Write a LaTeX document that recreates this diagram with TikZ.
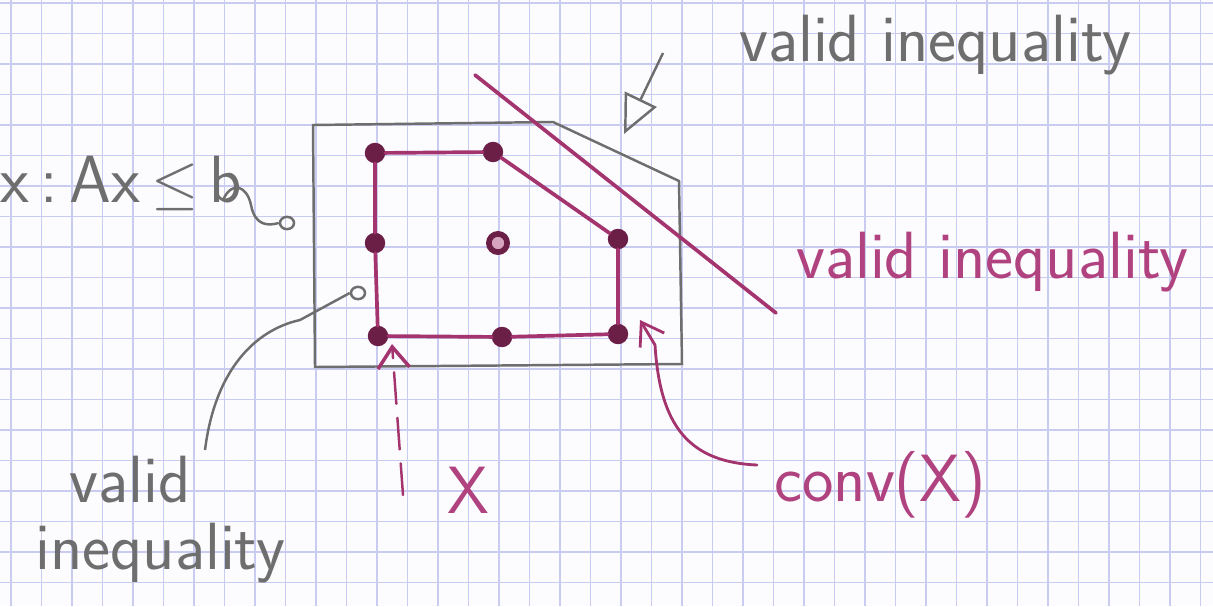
\documentclass[tikz,border=0pt]{standalone}
\usepackage{fontspec}
\usetikzlibrary{arrows.meta,shapes.geometric}
\definecolor{paper}{HTML}{FCFCFF}
\definecolor{gridc}{HTML}{C9CBF0}
\definecolor{pencilc}{HTML}{6E6E6E}
\definecolor{inkc}{HTML}{A3346E}
\definecolor{dotc}{HTML}{6B1E46}
\definecolor{inktext}{HTML}{B0437F}
\tikzset{
  gridline/.style={draw=gridc, line width=0.45pt},
  pencil/.style={draw=pencilc, line width=0.7pt},
  ink/.style={draw=inkc, line width=1.05pt, line cap=round, line join=round},
  inkdot/.style={circle, fill=dotc, draw=dotc, line width=0.6pt, minimum size=5.2pt, inner sep=0pt},
  hollowdot/.style={circle, fill=white!55!inkc, draw=dotc, line width=1.6pt, minimum size=5.2pt, inner sep=0pt},
  pentext/.style={text=pencilc, font=\sffamily\fontsize{19}{22}\selectfont, inner sep=1pt},
  inklabel/.style={text=inktext, font=\sffamily\fontsize{19}{22}\selectfont, inner sep=1pt},
  smallloop/.style={ellipse, draw=pencilc, line width=0.7pt, minimum width=4pt, minimum height=3.5pt, inner sep=0pt},
}
\begin{document}
\begin{tikzpicture}[x=0.01cm, y=-0.01cm]
\useasboundingbox (0,0) rectangle (1213,606);
\fill[paper] (0,0) rectangle (1213,606);
% grid paper
\foreach \i in {0,...,39} \draw[gridline] ({11+30.5*\i},0) -- ++(0,606);
\foreach \j in {0,...,19} \draw[gridline] (0,{3+30.5*\j}) -- ++(1213,0);

% outer polyhedron {x : Ax <= b} (pencil)
\draw[pencil] (313,125) -- (553,122) -- (679,181) -- (682,364) -- (315,367) -- cycle;

% integer points
\node[inkdot] (p1) at (375,153) {};
\node[inkdot] (p2) at (493,152) {};
\node[inkdot] (p3) at (375,243) {};
\node[hollowdot] (p4) at (498,243) {};
\node[inkdot] (p5) at (618,239) {};
\node[inkdot] (p6) at (378,336) {};
\node[inkdot] (p7) at (502,337) {};
\node[inkdot] (p8) at (618,334) {};

% convex hull
\draw[ink] (p1) -- (p2) -- (p5) -- (p8) -- (p7) -- (p6) -- (p3) -- (p1);

% valid inequality line (ink)
\coordinate (v1) at (475,75);
\coordinate (v2) at (776,313);
\draw[ink] (v1) -- (v2);

% labels
\node[pentext] (t1) at (935,45) {valid inequality};
\coordinate (a1) at (663,53);
\coordinate (a2) at (624,134);
\draw[pencil, -{Triangle[open, length=11pt, width=10pt]}] (a1) -- (a2);

\node[inklabel] (t2) at (992,262) {valid inequality};

\node[pentext, anchor=west, inner sep=0pt] (t3) at (0,183) {x\,:\,Ax\,$\leq$\,b};
\node[smallloop] (s1) at (287,223) {};
\coordinate (s0) at (223,200);
\draw[pencil] (s0) .. controls (232,180) and (247,186) .. (251,205) .. controls (255,226) and (268,226) .. (s1.west);

\node[pentext, inner sep=0pt] (t4) at (130,480) {valid};
\node[pentext, inner sep=0pt] (t5) at (160,553) {inequality};
\node[smallloop] (s2) at (358,293) {};
\coordinate (s3) at (205,450);
\draw[pencil] (s3) .. controls (215,370) and (255,330) .. (300,320) -- (s2.west);

% X with dashed pointer
\node[inklabel] (xl) at (468,490) {X};
\coordinate (d1) at (403,495);
\draw[ink, line width=0.7pt, dashed, dash pattern=on 9pt off 4pt, -{Straight Barb[length=6pt, width=9pt, line width=1pt]}] (d1) -- (392,344);

% conv(X)
\node[inklabel] (cx) at (880,485) {conv(X)};
\coordinate (c1) at (757,465);
\draw[ink, line width=0.8pt, -{Straight Barb[length=6pt, width=8pt]}] (c1) .. controls (688,462) and (660,425) .. (655,345) -- (640,320);
\end{tikzpicture}
\end{document}
